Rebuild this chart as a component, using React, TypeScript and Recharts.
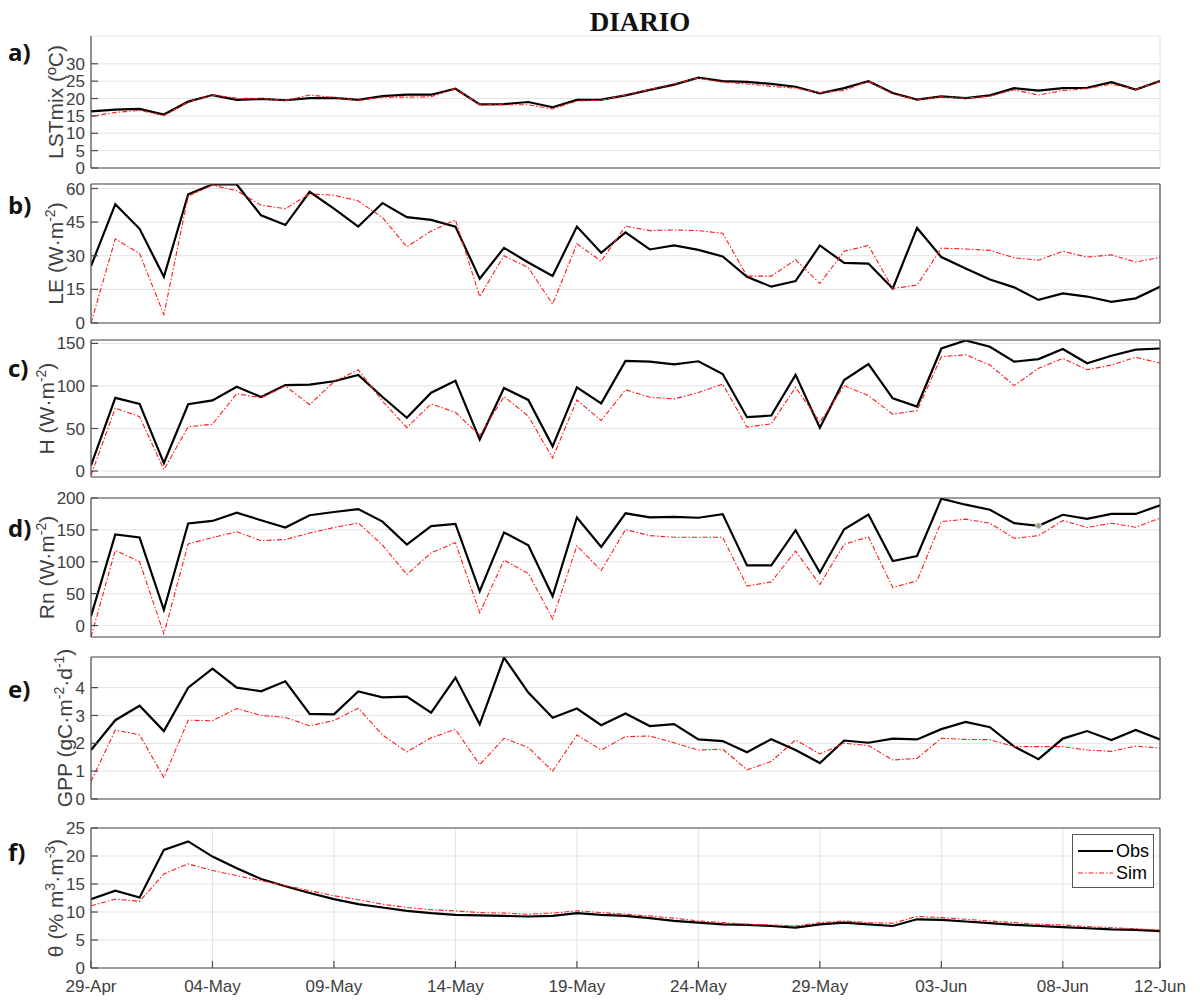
import React from 'react';
import { LineChart, Line, XAxis, YAxis, CartesianGrid, ReferenceDot } from 'recharts';

// day index 0 = 29-Apr ... 44 = 12-Jun
const days = Array.from({ length: 45 }, (_, i) => i);

const xTicks = [0, 5, 10, 15, 20, 25, 30, 35, 40, 44];
const xTickLabels = ['29-Apr', '04-May', '09-May', '14-May', '19-May', '24-May', '29-May', '03-Jun', '08-Jun', '12-Jun'];

const lstObs = [16.3, 16.8, 17.0, 15.4, 19.1, 21.0, 19.6, 19.9, 19.5, 20.1, 20.2, 19.6, 20.7, 21.1, 21.1, 22.8, 18.3, 18.4, 19.0, 17.5, 19.6, 19.7, 20.9, 22.5, 24.0, 26.0, 25.0, 24.8, 24.2, 23.4, 21.5, 23.0, 25.0, 21.6, 19.7, 20.6, 20.1, 20.9, 23.0, 22.3, 23.0, 23.1, 24.7, 22.6, 25.0];
const lstSim = [14.9, 16.0, 16.6, 15.1, 19.0, 21.0, 20.1, 20.0, 19.4, 21.0, 20.3, 19.5, 20.4, 20.4, 20.5, 22.9, 18.2, 18.2, 18.2, 17.0, 19.3, 19.5, 21.0, 22.6, 24.2, 25.9, 24.7, 24.2, 23.5, 23.0, 21.7, 22.3, 25.0, 21.3, 19.7, 20.5, 20.1, 20.7, 22.5, 21.0, 22.3, 22.8, 24.2, 22.6, 24.9];

const leObs = [25.4, 53, 42, 20.6, 57.4, 61.8, 61.8, 48, 43.7, 58.5, 51, 43, 53.5, 47.2, 46, 43, 19.8, 33.5, 27, 21, 43, 31.3, 40.4, 32.8, 34.6, 32.6, 29.7, 20.6, 16.2, 18.7, 34.6, 26.8, 26.5, 15.4, 42.4, 29.4, 24.3, 19.4, 15.9, 10.3, 13.2, 11.8, 9.4, 11.0, 16.2];
const leSim = [0, 37.5, 31, 3.7, 56.6, 61.5, 59, 52.5, 51, 57.6, 57, 54.4, 47, 34, 41, 46, 11.8, 30, 24.7, 8.4, 35.3, 27.6, 43.2, 41.2, 41.5, 41.2, 40, 20.9, 20.9, 28.2, 17.6, 32, 34.6, 15.4, 16.9, 33.4, 33, 32.4, 29.1, 28, 32, 29.4, 30.4, 27.2, 29.3];

const hObs = [6.6, 86, 79, 9.4, 78.5, 83, 99, 87, 101, 101.5, 105.5, 113, 87, 62.5, 92, 106, 37, 97.6, 83.6, 29, 98.4, 79.5, 129.4, 128.5, 125.4, 129, 114, 63.3, 65.2, 113, 50.8, 107, 125.8, 85.5, 75.8, 144, 153.5, 146, 128.5, 131.6, 143.4, 126.6, 135.5, 142.6, 144];
const hSim = [-5, 74, 64, 1.6, 52, 55, 91, 86, 100, 78, 105, 119, 82, 51, 79, 69, 42, 87.5, 64.5, 15.2, 83.6, 59.4, 95.5, 86.7, 84.8, 92.2, 102.3, 51.6, 55.5, 98.4, 57.4, 100.4, 88.7, 66.8, 71, 134.4, 136.7, 124.6, 100.4, 120.7, 132.4, 119, 124.6, 133.6, 127];

const rnObs = [14.7, 143, 138, 24.7, 160, 164, 177, 165, 153.7, 173, 178, 182.6, 163, 127, 156, 159.5, 53.7, 146, 126, 45.8, 169.5, 123.4, 176, 169.5, 170.5, 169, 174.7, 94.2, 94.2, 149.5, 83, 151, 174, 101, 109, 199, 189.5, 181.6, 160.5, 156.3, 173.7, 167.4, 175, 175, 188.4];
const rnSim = [-18, 118, 100, -13, 128, 138, 147, 133, 135, 145, 153.7, 161, 126, 80, 114, 130, 20, 102.6, 81.6, 10.5, 125, 86.3, 150.5, 141, 138.4, 138.4, 138.4, 62, 68.4, 116.8, 64.2, 127.4, 139, 59.5, 70, 163, 166.8, 160.5, 136.8, 141, 164.7, 153.7, 160.5, 154.2, 168.4];

const gppObs = [1.76, 2.83, 3.35, 2.44, 4.0, 4.68, 4.0, 3.87, 4.23, 3.06, 3.04, 3.86, 3.65, 3.68, 3.1, 4.36, 2.68, 5.08, 3.82, 2.92, 3.25, 2.65, 3.07, 2.62, 2.69, 2.14, 2.08, 1.68, 2.15, 1.76, 1.29, 2.1, 2.02, 2.17, 2.14, 2.51, 2.77, 2.58, 1.88, 1.43, 2.17, 2.44, 2.12, 2.48, 2.14];
const gppSim = [0.63, 2.48, 2.3, 0.77, 2.83, 2.81, 3.25, 3.0, 2.93, 2.63, 2.82, 3.26, 2.3, 1.69, 2.2, 2.5, 1.23, 2.18, 1.85, 1.0, 2.3, 1.76, 2.24, 2.26, 2.02, 1.76, 1.79, 1.05, 1.35, 2.12, 1.62, 2.0, 1.92, 1.4, 1.46, 2.18, 2.14, 2.13, 1.88, 1.88, 1.88, 1.76, 1.71, 1.9, 1.83];

const thetaObs = [12.3, 13.8, 12.6, 21.1, 22.6, 19.9, 17.8, 15.9, 14.6, 13.4, 12.3, 11.4, 10.8, 10.2, 9.8, 9.5, 9.4, 9.3, 9.2, 9.3, 9.8, 9.5, 9.3, 8.9, 8.4, 8.1, 7.8, 7.7, 7.5, 7.2, 7.8, 8.1, 7.8, 7.5, 8.7, 8.6, 8.3, 8.0, 7.7, 7.5, 7.3, 7.1, 6.9, 6.8, 6.6];
const thetaSim = [11.1, 12.3, 11.9, 16.8, 18.6, 17.4, 16.5, 15.6, 14.7, 13.8, 12.9, 12.2, 11.4, 10.8, 10.4, 10.2, 9.9, 9.8, 9.6, 9.8, 10.2, 9.9, 9.6, 9.3, 8.9, 8.4, 8.1, 7.8, 7.7, 7.5, 8.1, 8.4, 8.1, 8.0, 9.2, 9.0, 8.7, 8.4, 8.1, 7.8, 7.7, 7.4, 7.2, 7.0, 6.8];

const lstTicks = [0, 5, 10, 15, 20, 25, 30];
const leTicks = [0, 15, 30, 45, 60];
const hTicks = [0, 50, 100, 150];
const rnTicks = [0, 50, 100, 150, 200];
const gppTicks = [0, 1, 2, 3, 4];
const thetaTicks = [0, 5, 10, 15, 20, 25];

const WIDTH = 1200;
const PLOT_LEFT = 91;
const PLOT_RIGHT = 1160;
const AXIS_W = 60;
const PAD = 12;

const axisColor = '#4d4d4d';
const gridColor = '#e3e3e3';
const sans = '"Liberation Sans", Arial, Helvetica, sans-serif';
const tickStyle = { fontSize: 17, fill: '#404040', fontFamily: sans };

type PanelSpec = {
  letter: string;
  letterY: number;
  top: number;
  bottom: number;
  domain: [number, number];
  yTicks: number[];
  obs: number[];
  sim: number[];
  framed: boolean;
  dates: boolean;
  titleX: number;
  title: React.ReactNode;
  marker?: number;
};

const sup = (s: string, rest: string) => (
  <>
    <tspan dy={-8} fontSize={14}>{s}</tspan>
    <tspan dy={8}>{rest}</tspan>
  </>
);

const panels: PanelSpec[] = [
  { letter: 'a)', letterY: 52, top: 36, bottom: 168, domain: [0, 38], yTicks: lstTicks, obs: lstObs, sim: lstSim, framed: false, dates: false, titleX: 63, title: <>LSTmix (ºC)</> },
  { letter: 'b)', letterY: 205, top: 184, bottom: 323, domain: [0, 62], yTicks: leTicks, obs: leObs, sim: leSim, framed: true, dates: false, titleX: 63, title: <>LE (W·m{sup('-2', ')')}</> },
  { letter: 'c)', letterY: 368, top: 340, bottom: 477, domain: [-7, 154], yTicks: hTicks, obs: hObs, sim: hSim, framed: true, dates: false, titleX: 54, title: <>H (W·m{sup('-2', ')')}</> },
  { letter: 'd)', letterY: 528, top: 498, bottom: 637, domain: [-18, 200], yTicks: rnTicks, obs: rnObs, sim: rnSim, framed: true, dates: false, titleX: 54, title: <>Rn (W·m{sup('-2', ')')}</>, marker: 39 },
  { letter: 'e)', letterY: 689, top: 657, bottom: 799, domain: [0, 5.1], yTicks: gppTicks, obs: gppObs, sim: gppSim, framed: true, dates: false, titleX: 72, title: <>GPP (gC·m{sup('-2', '·d')}{sup('-1', ')')}</> },
  { letter: 'f)', letterY: 852, top: 828, bottom: 968, domain: [0, 25], yTicks: thetaTicks, obs: thetaObs, sim: thetaSim, framed: true, dates: true, titleX: 63, title: <>θ (% m{sup('3', '·m')}{sup('-3', ')')}</> },
];

const Panel: React.FC<{ p: PanelSpec }> = ({ p }) => {
  const rows = days.map((d, i) => ({ day: d, obs: p.obs[i], sim: p.sim[i] }));
  const xAxisH = p.dates ? 30 : 1;
  const padBottom = p.dates ? 4 : PAD - 1;
  const height = p.bottom - p.top + PAD + xAxisH + padBottom;
  const edge = { stroke: axisColor, strokeWidth: 1.2 };

  return (
    <div style={{ position: 'absolute', left: 0, top: p.top - PAD }}>
      <LineChart
        width={WIDTH}
        height={height}
        data={rows}
        margin={{
          top: p.framed ? PAD - 1 : PAD,
          right: WIDTH - PLOT_RIGHT - (p.framed ? 1 : 0),
          bottom: padBottom,
          left: PLOT_LEFT - AXIS_W,
        }}
      >
        <CartesianGrid stroke={gridColor} strokeWidth={1} />
        <XAxis
          dataKey="day"
          type="number"
          domain={[0, 44]}
          ticks={xTicks}
          interval={0}
          allowDataOverflow
          height={xAxisH}
          tickSize={-7}
          tickMargin={p.dates ? 19 : 0}
          tick={p.dates ? tickStyle : false}
          tickFormatter={(v: number) => xTickLabels[xTicks.indexOf(v)] ?? ''}
          axisLine={edge}
          tickLine={edge}
        />
        <YAxis
          type="number"
          domain={p.domain}
          ticks={p.yTicks}
          interval={0}
          allowDataOverflow
          width={AXIS_W}
          tickSize={-7}
          tickMargin={13}
          tick={tickStyle}
          axisLine={edge}
          tickLine={edge}
        />
        {p.framed && (
          <XAxis
            xAxisId="top"
            orientation="top"
            type="number"
            domain={[0, 44]}
            ticks={xTicks}
            interval={0}
            allowDataOverflow
            height={1}
            tickSize={-7}
            tick={false}
            axisLine={edge}
            tickLine={edge}
          />
        )}
        {p.framed && (
          <YAxis
            yAxisId="right"
            orientation="right"
            type="number"
            domain={p.domain}
            ticks={p.yTicks}
            interval={0}
            allowDataOverflow
            width={1}
            tickSize={-7}
            tick={false}
            axisLine={edge}
            tickLine={edge}
          />
        )}
        <Line type="linear" dataKey="obs" stroke="#000000" strokeWidth={2.2} dot={false} isAnimationActive={false} />
        <Line
          type="linear"
          dataKey="sim"
          stroke="#ff1a1a"
          strokeWidth={1.1}
          strokeDasharray="5 2 1.5 2"
          dot={false}
          isAnimationActive={false}
        />
        {p.marker !== undefined && (
          <ReferenceDot x={p.marker} y={p.obs[p.marker]} r={3} fill="#9c9c88" stroke="#e0e0e0" strokeWidth={1} />
        )}
      </LineChart>
    </div>
  );
};

const LegendBox: React.FC = () => (
  <div
    style={{
      position: 'absolute',
      left: 1072,
      top: 834,
      width: 80,
      height: 52,
      border: '1px solid #555',
      background: '#fff',
      fontFamily: sans,
      fontSize: 18,
      color: '#1a1a1a',
    }}
  >
    <svg width={80} height={52}>
      <line x1={5} x2={40} y1={16} y2={16} stroke="#000" strokeWidth={2.2} />
      <text x={43} y={22}>Obs</text>
      <line x1={5} x2={40} y1={38} y2={38} stroke="#ff1a1a" strokeWidth={1.1} strokeDasharray="5 2 1.5 2" />
      <text x={43} y={44}>Sim</text>
    </svg>
  </div>
);

export default function App() {
  return (
    <div style={{ position: 'absolute', left: 0, top: 0, width: WIDTH, height: 1001, background: '#fff', overflow: 'hidden' }}>
      {panels.map((p) => (
        <Panel key={p.letter} p={p} />
      ))}
      <LegendBox />
      <svg width={WIDTH} height={1001} style={{ position: 'absolute', left: 0, top: 0, pointerEvents: 'none' }}>
        <text x={640} y={31} textAnchor="middle" fontFamily='"Liberation Serif", "Times New Roman", serif' fontWeight={700} fontSize={27} fill="#111">
          DIARIO
        </text>
        {panels.map((p) => (
          <g key={p.letter}>
            <text x={8} y={p.letterY + 9} fontFamily='"Open Sans", sans-serif' fontWeight={700} fontSize={24} fill="#111">
              {p.letter}
            </text>
            <text
              transform={`translate(${p.titleX}, ${(p.top + p.bottom) / 2}) rotate(-90)`}
              textAnchor="middle"
              fontFamily={sans}
              fontSize={21}
              fill="#404040"
            >
              {p.title}
            </text>
          </g>
        ))}
      </svg>
    </div>
  );
}
